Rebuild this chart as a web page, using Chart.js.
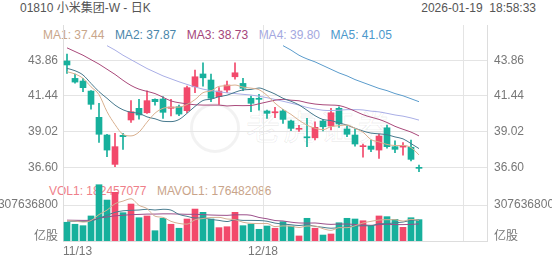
<!DOCTYPE html>
<html>
<head>
<meta charset="utf-8">
<script src="https://cdn.jsdelivr.net/npm/chart.js@4.4.1/dist/chart.umd.min.js"></script>
<style>
  body { margin: 0; background: #fff; width: 552px; height: 265px; overflow: hidden; position: relative;
         font-family: "Liberation Sans", Arial, "Noto Sans CJK SC", sans-serif; font-size: 12px; color: #555; }
  .t { position: absolute; white-space: nowrap; line-height: 14px; }
  .t span { margin-right: 10.5px; }
  canvas { position: absolute; left: 0; }
  #wm { position: absolute; left: 246px; top: 106px; font-size: 34px; line-height: 40px; font-family: "Noto Sans CJK SC", sans-serif;
        color: rgba(0,0,0,0.02); -webkit-text-stroke: 1px rgba(0,0,0,0.07); letter-spacing: 3px; }
  #wmc { position: absolute; left: 190px; top: 103px; width: 44px; height: 44px; border-radius: 50%;
         border: 3px solid rgba(0,0,0,0.05); }
</style>
</head>
<body>
<div class="t" style="left:20px;top:1px">01810 小米集团-W - 日K</div>
<div class="t" style="right:16px;top:1px">2026-01-19&nbsp;&nbsp;18:58:33</div>
<div id="wmc"></div>
<div id="wm">老虎证券</div>
<div id="maLegend" class="t" style="left:43px;top:28px"></div>
<div id="volLegend" class="t" style="left:49px;top:184px"></div>
<canvas id="priceChart" width="552" height="180" style="top:0"></canvas>
<canvas id="volChart" width="552" height="85" style="top:180px"></canvas>
<div class="t" style="right:494px;top:229px;color:#777">亿股</div>
<div class="t" style="left:494px;top:229px;color:#777">亿股</div>
<script>
// candles, 11/13 .. 01/19
const opens  = [43.81, 42.63, 42.45, 41.77, 39.99, 38.79, 36.80, 38.77, 39.81, 40.60,
                40.30, 41.21, 41.23, 40.60, 40.71, 40.44, 42.06, 42.93, 42.52, 41.39,
                41.84, 42.74, 42.29, 41.28, 41.28, 40.42, 40.30, 40.42, 39.74, 39.18,
                38.67, 38.60, 39.74, 39.40, 40.60, 39.20, 38.79, 38.00, 38.04, 37.77,
                39.28, 38.00, 37.97, 37.96, 36.56];
const highs  = [44.28, 42.93, 42.63, 41.80, 40.94, 38.84, 38.90, 38.90, 41.12, 41.21,
                41.79, 41.25, 41.39, 41.21, 40.82, 42.11, 43.20, 43.69, 42.93, 42.00,
                42.45, 43.69, 42.63, 41.43, 41.55, 40.48, 40.67, 40.53, 39.81, 39.45,
                39.92, 39.69, 39.85, 40.60, 40.70, 39.40, 39.18, 38.18, 38.45, 38.86,
                39.47, 38.40, 38.27, 38.45, 36.76];
const lows   = [42.97, 42.30, 41.73, 40.55, 38.29, 37.32, 36.64, 37.82, 39.65, 39.87,
                40.26, 40.82, 39.92, 40.08, 40.10, 40.30, 41.66, 42.11, 41.05, 40.87,
                41.66, 42.57, 41.79, 40.37, 40.48, 39.92, 39.96, 39.58, 39.08, 39.04,
                38.00, 38.45, 39.06, 39.13, 39.31, 38.67, 38.04, 37.28, 37.66, 37.21,
                37.89, 37.59, 37.43, 37.03, 36.30];
const closes = [43.54, 42.38, 42.00, 40.87, 38.84, 37.77, 38.00, 38.68, 40.37, 40.15,
                41.12, 41.05, 40.33, 40.69, 40.21, 42.00, 42.74, 42.67, 41.28, 41.77,
                42.18, 43.01, 41.96, 40.94, 41.21, 40.26, 40.37, 39.85, 39.24, 39.24,
                38.60, 39.31, 39.35, 40.30, 39.54, 38.84, 38.18, 38.04, 37.82, 38.72,
                38.00, 37.82, 38.04, 37.14, 36.53];
const volumes = [1.60e8, 1.43e8, 1.31e8, 2.14e8, 4.81e8, 3.50e8, 4.16e8, 2.42e8, 3.16e8, 1.99e8,
                 2.14e8, 0.88e8, 1.94e8, 1.43e8, 1.09e8, 1.88e8, 2.73e8, 2.45e8, 1.88e8, 1.14e8,
                 1.22e8, 2.45e8, 1.31e8, 1.45e8, 1.00e8, 1.28e8, 1.09e8, 1.65e8, 1.28e8, 0.43e8,
                 1.94e8, 1.09e8, 0.51e8, 0.60e8, 1.56e8, 1.94e8, 1.88e8, 1.73e8, 1.28e8, 2.14e8,
                 2.08e8, 1.85e8, 1.17e8, 1.99e8, 182457077];

// moving averages
const ma1 = [43.08, 42.93, 42.63, 42.06, 41.53, 40.37, 39.50, 38.83, 38.73, 38.99,
             39.66, 40.27, 40.60, 40.67, 40.68, 40.86, 41.19, 41.66, 41.78, 42.09,
             42.13, 42.18, 42.04, 41.97, 41.86, 41.48, 40.95, 40.53, 40.19, 39.79,
             39.46, 39.25, 39.15, 39.36, 39.42, 39.47, 39.24, 38.98, 38.48, 38.32,
             38.15, 38.08, 38.08, 37.94, 37.44];
const ma2 = [43.31, 43.15, 42.86, 42.29, 41.73, 41.28, 40.82, 40.50, 40.33, 40.26,
             40.02, 39.89, 39.72, 39.70, 39.84, 40.26, 40.73, 41.13, 41.22, 41.39,
             41.49, 41.69, 41.85, 41.88, 41.98, 41.80, 41.57, 41.28, 41.08, 40.83,
             40.47, 40.10, 39.84, 39.77, 39.61, 39.46, 39.25, 39.06, 38.92, 38.87,
             38.81, 38.66, 38.53, 38.21, 37.87];
const ma3 = [44.70, 44.45, 44.20, 43.90, 43.60, 43.25, 42.90, 42.50, 42.15, 41.90,
             41.75, 41.60, 41.35, 41.10, 40.98, 40.90, 40.84, 40.82, 40.82, 40.82,
             40.76, 40.79, 40.78, 40.79, 40.91, 41.03, 41.15, 41.21, 41.15, 41.11,
             40.98, 40.89, 40.84, 40.82, 40.79, 40.63, 40.41, 40.17, 40.00, 39.85,
             39.64, 39.38, 39.18, 38.99, 38.73];
const ma4 = [null, null, null, null, null, 44.85, 44.55, 44.20, 43.90, 43.60,
             43.30, 43.05, 42.80, 42.60, 42.40, 42.22, 42.05, 41.90, 41.80, 41.72,
             41.65, 41.60, 41.55, 41.50, 41.42, 41.32, 41.20, 41.08, 40.95, 40.82,
             40.66, 40.56, 40.47, 40.45, 40.47, 40.51, 40.51, 40.49, 40.41, 40.36,
             40.26, 40.15, 40.07, 39.95, 39.80];
const ma5 = [null, null, null, null, null, null, null, null, null, null,
             null, null, null, null, null, null, null, null, null, null,
             null, null, null, null, null, null, null, 44.85, 44.55, 44.20,
             43.95, 43.75, 43.50, 43.25, 43.00, 42.80, 42.55, 42.35, 42.15, 41.95,
             41.80, 41.60, 41.45, 41.25, 41.05];
const mavol1 = [1.75e8, 1.70e8, 1.62e8, 1.75e8, 2.26e8, 2.64e8, 3.18e8, 3.41e8, 3.61e8, 3.05e8,
                2.77e8, 2.12e8, 2.02e8, 1.68e8, 1.50e8, 1.44e8, 1.81e8, 1.92e8, 2.01e8, 2.02e8,
                1.88e8, 1.83e8, 1.60e8, 1.51e8, 1.49e8, 1.50e8, 1.23e8, 1.29e8, 1.26e8, 1.15e8,
                1.28e8, 1.28e8, 1.05e8, 0.91e8, 1.14e8, 1.14e8, 1.30e8, 1.54e8, 1.68e8, 1.79e8,
                1.82e8, 1.82e8, 1.70e8, 1.85e8, 176482086];
const mavol2 = [1.70e8, 1.68e8, 1.66e8, 1.70e8, 1.95e8, 2.20e8, 2.45e8, 2.58e8, 2.62e8, 2.65e8,
                2.71e8, 2.65e8, 2.71e8, 2.64e8, 2.27e8, 2.11e8, 1.97e8, 1.97e8, 1.84e8, 1.76e8,
                1.66e8, 1.82e8, 1.76e8, 1.76e8, 1.75e8, 1.69e8, 1.53e8, 1.45e8, 1.39e8, 1.32e8,
                1.39e8, 1.25e8, 1.17e8, 1.09e8, 1.14e8, 1.21e8, 1.29e8, 1.30e8, 1.30e8, 1.47e8,
                1.48e8, 1.56e8, 1.62e8, 1.76e8, 1.79e8];
const mavol3 = [1.78e8, 1.77e8, 1.76e8, 1.78e8, 1.95e8, 2.05e8, 2.15e8, 2.20e8, 2.25e8, 2.27e8,
                2.30e8, 2.30e8, 2.32e8, 2.32e8, 2.30e8, 2.28e8, 2.28e8, 2.25e8, 2.22e8, 2.20e8,
                2.19e8, 2.24e8, 2.24e8, 2.20e8, 2.01e8, 1.90e8, 1.75e8, 1.71e8, 1.61e8, 1.54e8,
                1.53e8, 1.54e8, 1.47e8, 1.42e8, 1.45e8, 1.45e8, 1.41e8, 1.37e8, 1.34e8, 1.39e8,
                1.43e8, 1.40e8, 1.40e8, 1.42e8, 1.46e8];

const priceTicks = [36.60, 39.02, 41.44, 43.86];
const volTicks = [307636800];
const dateLabels = ['11/13', '12/18', ''];
const dateSlots = [0, 25, 50];   // candle index each date gridline starts at

const maNames = ['MA1', 'MA2', 'MA3', 'MA4', 'MA5'];
const maLast = [37.44, 37.87, 38.73, 39.80, 41.05];

const upColor = '#f2496b';
const downColor = '#17b09c';
const maColors = ['#d9b08f', '#47798d', '#a9497a', '#a9aee6', '#5b9ccc'];
const maTextColors = ['#c9a68a', '#4a86aa', '#a5457a', '#a3a8e0', '#4c98cc'];
const gridColor = '#e4e4e4';
const tickFont = { family: 'Liberation Sans', size: 12 };

document.getElementById('maLegend').innerHTML = maNames
    .map((n, i) => `<span style="color:${maTextColors[i]}">${n}: ${maLast[i].toFixed(2)}</span>`).join('');
document.getElementById('volLegend').innerHTML =
    `<span style="color:#ef7f8a">VOL1: ${volumes[volumes.length - 1]}</span>` +
    `<span style="color:#c9a48a">MAVOL1: ${mavol1[mavol1.length - 1]}</span>`;

const isUp = i => closes[i] >= opens[i];
const candleColor = ctx => isUp(ctx.dataIndex) ? upColor : downColor;
const toPoints = arr => arr.map((v, i) => ({ x: i, y: v }));
const slotGrid = s => { s.ticks = dateSlots.map(d => ({ value: d - 0.5 })); };

function lineSet(values, color) {
    return {
        type: 'line', data: toPoints(values), borderColor: color, borderWidth: 1,
        pointRadius: 0, cubicInterpolationMode: 'monotone', order: 0
    };
}

const xScale = (showLabels) => ({
    type: 'linear', min: -0.5, max: 52.5, offset: false,
    afterBuildTicks: slotGrid,
    ticks: {
        display: showLabels, align: 'inner', maxRotation: 0, autoSkip: false, padding: 3,
        color: '#777', font: tickFont,
        callback: (v, i) => dateLabels[i] || ''
    },
    grid: { color: gridColor, drawTicks: false, offset: false },
    border: { display: showLabels, color: '#ddd' },
    afterFit: s => { s.height = showLabels ? 24 : 0; s.paddingLeft = 0; s.paddingRight = 0; }
});

const yScale = (pos, min, max, ticks, fmt, showGrid) => ({
    position: pos, min: min, max: max,
    afterBuildTicks: s => { s.ticks = ticks.map(v => ({ value: v })); },
    ticks: { color: '#777', font: tickFont, padding: pos === 'left' ? 5 : 7, callback: fmt },
    grid: { display: showGrid, color: gridColor, drawTicks: false },
    border: { color: '#ddd' },
    afterFit: s => { s.width = pos === 'left' ? 63 : 65; s.paddingTop = 0; s.paddingBottom = 0; }
});

const common = {
    responsive: false, animation: false,
    plugins: { legend: { display: false }, tooltip: { enabled: false } }
};

new Chart(document.getElementById('priceChart'), {
    type: 'bar',
    data: {
        datasets: [
            { data: lows.map((l, i) => ({ x: i, y: [l, highs[i]] })), backgroundColor: candleColor,
              barThickness: 1, grouped: false, order: 2 },
            { data: opens.map((o, i) => ({ x: i, y: [o, closes[i]] })), backgroundColor: candleColor,
              barThickness: 6, minBarLength: 1, grouped: false, order: 1 },
            lineSet(ma1, maColors[0]),
            lineSet(ma2, maColors[1]),
            lineSet(ma3, maColors[2]),
            lineSet(ma4, maColors[3]),
            lineSet(ma5, maColors[4])
        ]
    },
    options: {
        ...common,
        layout: { padding: { top: 25, bottom: 0, left: 0, right: 0 } },
        scales: {
            x: xScale(false),
            y: yScale('left', 35.74, 46.25, priceTicks, v => v.toFixed(2), true),
            y2: yScale('right', 35.74, 46.25, priceTicks, v => v.toFixed(2), false)
        }
    }
});

new Chart(document.getElementById('volChart'), {
    type: 'bar',
    data: {
        datasets: [
            { data: toPoints(volumes), backgroundColor: candleColor, barThickness: 6, grouped: false, order: 1 },
            lineSet(mavol1, '#d4b094'),
            lineSet(mavol2, '#4a7d90'),
            lineSet(mavol3, '#9b4f8a')
        ]
    },
    options: {
        ...common,
        layout: { padding: 0 },
        scales: {
            x: xScale(true),
            y: yScale('left', 0, 5.2128e8, volTicks, v => String(v), true),
            y2: yScale('right', 0, 5.2128e8, volTicks, v => String(v), false)
        }
    }
});
</script>
</body>
</html>
